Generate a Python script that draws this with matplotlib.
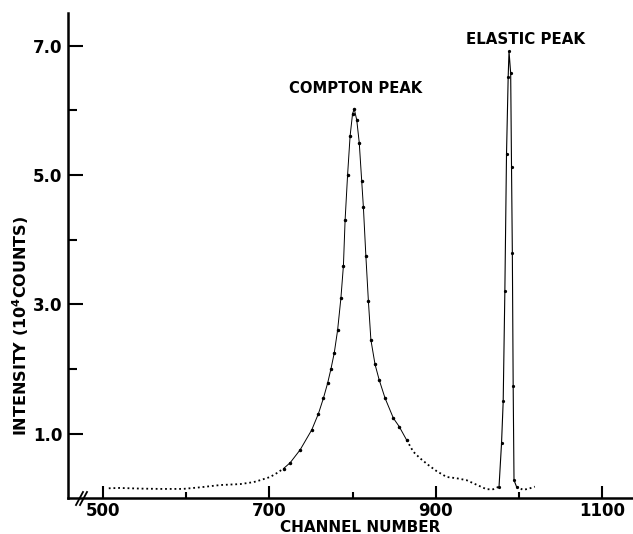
import matplotlib
matplotlib.use("Agg")
import matplotlib.pyplot as plt
from matplotlib.ticker import FixedLocator

# ---- data (intensity in units of 10^4 counts) ----
bg_left_ch = [507, 520, 545, 570, 596, 617, 641, 665, 681, 689, 701, 709, 717]
bg_left_v = [0.155, 0.16, 0.15, 0.145, 0.145, 0.17, 0.205, 0.22, 0.25, 0.28, 0.33, 0.39, 0.46]

compton_ch = [717, 725, 737, 751, 759, 765, 770, 774, 778, 782, 786, 789, 791, 794,
              797, 800, 802, 805, 808, 811, 813, 816, 819, 822, 827, 832, 839, 849, 856, 865]
compton_v = [0.46, 0.55, 0.75, 1.06, 1.31, 1.55, 1.78, 2.00, 2.25, 2.60, 3.10, 3.60, 4.30, 5.00,
             5.60, 5.95, 6.02, 5.85, 5.50, 4.90, 4.50, 3.74, 3.05, 2.45, 2.07, 1.83, 1.55, 1.24, 1.11, 0.90]

tail_ch = [865, 873, 881, 891, 901, 913, 925, 937, 949, 961, 969, 976]
tail_v = [0.90, 0.72, 0.62, 0.515, 0.42, 0.33, 0.31, 0.28, 0.21, 0.14, 0.14, 0.18]

elastic_ch = [976, 979, 981, 983, 985, 987, 988, 990, 991, 992, 993, 994, 997]
elastic_v = [0.18, 0.85, 1.50, 3.20, 5.33, 6.52, 6.91, 6.57, 5.13, 3.79, 1.73, 0.28, 0.18]

bg_right_ch = [997, 1005, 1012, 1019]
bg_right_v = [0.18, 0.13, 0.15, 0.18]

x_major = [500, 700, 900, 1100]
x_minor = [600, 800, 1000]
y_major = [1.0, 3.0, 5.0, 7.0]
y_minor = [2.0, 4.0, 6.0]

fig = plt.figure(figsize=(6.33, 5.34), dpi=100)
ax = fig.add_axes([68 / 633, (534 - 498.3) / 534, (633 - 68) / 633, (498.3 - 13.3) / 534])

c = "black"
dots = (0, (1, 1.6))
ax.plot(bg_left_ch, bg_left_v, color=c, lw=1.3, ls=dots)
ax.plot(compton_ch, compton_v, color=c, lw=0.7, ls="-", marker="o", ms=1.5)
ax.plot(tail_ch, tail_v, color=c, lw=1.3, ls=dots)
ax.plot(elastic_ch, elastic_v, color=c, lw=0.8, ls="-", marker="o", ms=1.3)
ax.plot(bg_right_ch, bg_right_v, color=c, lw=1.3, ls=dots)

ax.set_xlim(458, 1137)
ax.set_ylim(0, 7.5)

for s in ["top", "right"]:
    ax.spines[s].set_visible(False)
for s in ["left", "bottom"]:
    ax.spines[s].set_linewidth(1.8)

ax.xaxis.set_major_locator(FixedLocator(x_major))
ax.xaxis.set_minor_locator(FixedLocator(x_minor))
ax.yaxis.set_major_locator(FixedLocator(y_major))
ax.yaxis.set_minor_locator(FixedLocator(y_minor))
ax.set_xticklabels([str(v) for v in x_major])
ax.set_yticklabels([f"{v:.1f}" for v in y_major])

ax.tick_params(axis="x", which="major", direction="in", length=9, width=1.5, pad=3,
               labelsize=12)
ax.tick_params(axis="x", which="minor", direction="in", length=4.5, width=1.5)
ax.tick_params(axis="y", which="major", direction="in", length=11, width=1.5, pad=4,
               labelsize=12)
ax.tick_params(axis="y", which="minor", direction="in", length=6.5, width=1.5)
for lab in ax.get_xticklabels() + ax.get_yticklabels():
    lab.set_fontweight("bold")

ax.set_xlabel("CHANNEL NUMBER", fontsize=11, fontweight="bold")
ax.xaxis.set_label_coords((360 - 68) / 565, -(520 - 498.3) / 485)
ax.set_ylabel("INTENSITY (10$^{\\mathbf{4}}$COUNTS)", fontsize=11.5, fontweight="bold")
ax.yaxis.set_label_coords((31 - 68) / 565, (498.3 - 326) / 485)

ax.annotate("COMPTON PEAK", xy=(802, 6.02), xytext=((356 - 68) / 565, (498.3 - 88) / 485),
            textcoords="axes fraction", ha="center", va="center",
            fontsize=10.6, fontweight="bold")
ax.annotate("ELASTIC PEAK", xy=(988, 6.91), xytext=((526 - 68) / 565, (498.3 - 39) / 485),
            textcoords="axes fraction", ha="center", va="center",
            fontsize=10.8, fontweight="bold")

# axis break marks
for dx in (0.0, 4.0):
    x0 = (76 + dx - 68) / 565
    x1 = (83 + dx - 68) / 565
    ax.plot([x0, x1], [-(505 - 498.3) / 485, (498.3 - 492) / 485], color=c, lw=1.3,
            transform=ax.transAxes, clip_on=False)

fig.savefig("out.png", dpi=100)
